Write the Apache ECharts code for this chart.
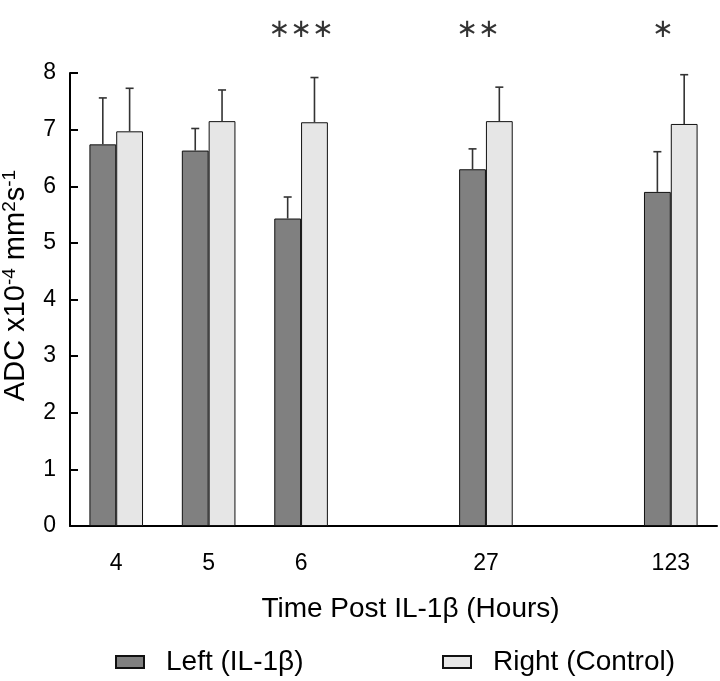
<!DOCTYPE html>
<html>
<head>
<meta charset="utf-8">
<script src="https://cdn.jsdelivr.net/npm/echarts@6/dist/echarts.min.js"></script>
<style>
html,body{margin:0;padding:0;background:#fff;}
#chart{width:720px;height:681px;}
</style>
</head>
<body>
<div id="chart"></div>
<script>
// ---- data ----
const categories = ['4', '5', '6', ' ', '27', '  ', '123'];
const leftMean  = [6.74, 6.63, 5.43, null, 6.30, null, 5.90];
const leftUpper = [7.56, 7.02, 5.81, null, 6.66, null, 6.61];
const rightMean  = [6.97, 7.15, 7.13, null, 7.15, null, 7.10];
const rightUpper = [7.73, 7.70, 7.92, null, 7.75, null, 7.97];
const significance = ['', '', '\u2217\u2217\u2217', '', '\u2217\u2217', '', '\u2217'];
const yTicks = [0, 1, 2, 3, 4, 5, 6, 7, 8];
const leftName = 'Left (IL-1\u03B2)';
const rightName = 'Right (Control)';

// ---- styling ----
const FONT = '"Liberation Sans", Arial, sans-serif';
const BAR_FRAC = 0.29;
const STAR_SHIFT = { 4: -8, 6: -8 };   // small horizontal nudges of the significance marks

function errorData(mean, upper) {
  const out = [];
  mean.forEach((m, i) => { if (m != null) out.push([i, m, upper[i]]); });
  return out;
}
function errorRenderer(side) {
  return function (params, api) {
    const i = api.value(0);
    const base = api.coord([i, api.value(1)]);
    const top = api.coord([i, api.value(2)]);
    const bw = api.size([1, 0])[0] * BAR_FRAC;
    const cx = base[0] + side * bw / 2;
    const st = { stroke: '#333', lineWidth: 1.6 };
    return {
      type: 'group',
      children: [
        { type: 'line', shape: { x1: cx, y1: base[1], x2: cx, y2: top[1] }, style: st },
        { type: 'line', shape: { x1: cx - 4, y1: top[1], x2: cx + 4, y2: top[1] }, style: st }
      ]
    };
  };
}

const starData = [];
significance.forEach((s, i) => {
  if (s) starData.push({ value: [i, yTicks[yTicks.length - 1]], sig: s, label: { offset: [STAR_SHIFT[i] || 0, 0] } });
});

const chart = echarts.init(document.getElementById('chart'), null, { renderer: 'canvas' });
chart.setOption({
  backgroundColor: '#fff',
  animation: false,
  textStyle: { fontFamily: FONT, color: '#000' },
  grid: { left: 70, right: 3, top: 73, bottom: 155, containLabel: false, outerBoundsMode: 'none' },
  legend: [
    {
      data: [leftName], left: 115, top: 648, padding: 0,
      itemWidth: 28, itemHeight: 12, icon: 'rect',
      textStyle: { fontFamily: FONT, fontSize: 28, color: '#000', padding: [0, 0, 0, 17] }
    },
    {
      data: [rightName], left: 442, top: 648, padding: 0,
      itemWidth: 28, itemHeight: 12, icon: 'rect',
      textStyle: { fontFamily: FONT, fontSize: 28, color: '#000', padding: [0, 0, 0, 17] }
    }
  ],
  xAxis: {
    type: 'category',
    data: categories,
    boundaryGap: true,
    axisLine: { lineStyle: { color: '#000', width: 2 } },
    axisTick: { inside: true, length: 8, lineStyle: { color: '#000', width: 2 } },
    axisLabel: { fontFamily: FONT, fontSize: 23, color: '#000', margin: 26, interval: 0 },
    name: 'Time Post IL-1\u03B2 (Hours)',
    nameLocation: 'middle',
    nameGap: 69,
    nameTextStyle: { fontFamily: FONT, fontSize: 28, color: '#000', padding: [0, 0, 0, 34] },
    splitLine: { show: false }
  },
  yAxis: {
    type: 'value',
    min: yTicks[0], max: yTicks[yTicks.length - 1], interval: 1,
    axisLine: { show: true, lineStyle: { color: '#000', width: 2 } },
    axisTick: { show: true, inside: true, length: 8, lineStyle: { color: '#000', width: 2 } },
    axisLabel: { fontFamily: FONT, fontSize: 23, color: '#000', margin: 14 },
    splitLine: { show: false },
    name: '{n|ADC x10}{s|-4}{n| mm}{s|2}{n|s}{s|-1}',
    nameLocation: 'middle',
    nameGap: 40,
    nameTextStyle: {
      padding: [0, 0, 0, 28],
      rich: {
        n: { fontFamily: FONT, fontSize: 29, color: '#000', lineHeight: 30, verticalAlign: 'bottom' },
        s: { fontFamily: FONT, fontSize: 19, color: '#000', lineHeight: 17, verticalAlign: 'top' }
      }
    }
  },
  series: [
    {
      name: leftName, type: 'bar', data: leftMean,
      barWidth: (BAR_FRAC * 100) + '%', barGap: '0%',
      itemStyle: { color: '#808080', borderColor: '#111', borderWidth: 1 }
    },
    {
      name: rightName, type: 'bar', data: rightMean,
      barWidth: (BAR_FRAC * 100) + '%', barGap: '0%',
      itemStyle: { color: '#e6e6e6', borderColor: '#111', borderWidth: 1 }
    },
    {
      type: 'custom', renderItem: errorRenderer(-1), data: errorData(leftMean, leftUpper),
      encode: { x: 0, y: [1, 2] }, z: 5, silent: true
    },
    {
      type: 'custom', renderItem: errorRenderer(1), data: errorData(rightMean, rightUpper),
      encode: { x: 0, y: [1, 2] }, z: 5, silent: true
    },
    {
      type: 'scatter', symbolSize: 0, silent: true,
      data: starData,
      label: {
        show: true, position: 'top', distance: 30,
        fontFamily: '"DejaVu Sans", sans-serif', fontSize: 26, color: '#000',
        formatter: p => p.data.sig
      },
      clip: false
    }
  ]
});
</script>
</body>
</html>
